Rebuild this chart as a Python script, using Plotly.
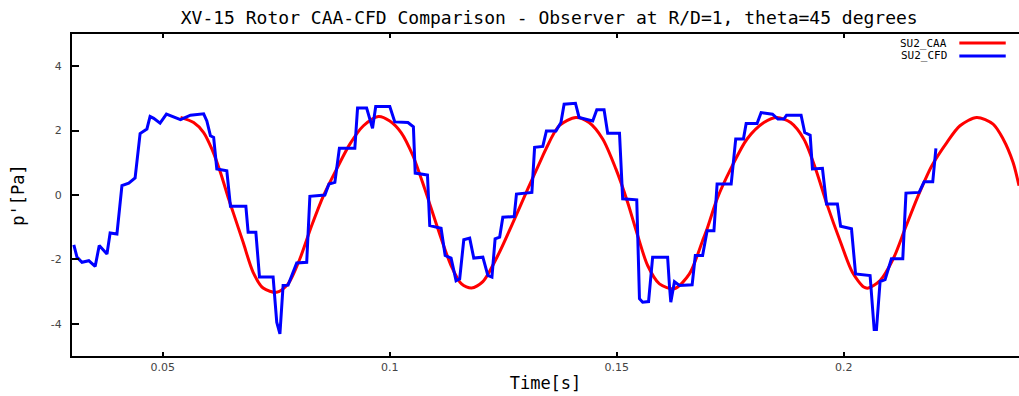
import plotly.graph_objects as go

# SU2_CAA (red, smooth)
caa_t = [0.0539, 0.0568, 0.0590, 0.0608, 0.0627, 0.0645, 0.0655, 0.0677, 0.0699, 0.0721,
         0.0751, 0.0776, 0.0802, 0.0828, 0.0854, 0.0883, 0.0912, 0.0942, 0.0975, 0.1000,
         0.1025, 0.1051, 0.1077, 0.1106, 0.1135, 0.1158, 0.1180, 0.1205, 0.1238, 0.1275,
         0.1304, 0.1334, 0.1344, 0.1373, 0.1410, 0.1439, 0.1469, 0.1498, 0.1524, 0.1546,
         0.1568, 0.1594, 0.1627, 0.1660, 0.1689, 0.1699, 0.1721, 0.1751, 0.1787, 0.1824,
         0.1853, 0.1883, 0.1912, 0.1938, 0.1964, 0.1993, 0.2019, 0.2044, 0.2054, 0.2080,
         0.2109, 0.2135, 0.2164, 0.2194, 0.2227, 0.2256, 0.2293, 0.2329, 0.2351, 0.2373,
         0.2386]
caa_p = [2.41, 2.25, 1.94, 1.43, 0.70, -0.12, -0.54, -1.47, -2.40, -2.89,
         -3.02, -2.76, -1.98, -0.95, -0.02, 0.81, 1.58, 2.15, 2.44, 2.30,
         1.94, 1.22, 0.19, -1.05, -2.19, -2.76, -2.89, -2.69, -1.88, -0.74,
         0.19, 1.12, 1.43, 2.15, 2.41, 2.25, 1.74, 0.81, -0.23, -1.26,
         -2.19, -2.76, -2.91, -2.45, -1.42, -1.05, -0.12, 0.81, 1.74, 2.25,
         2.41, 2.25, 1.74, 0.81, -0.33, -1.47, -2.40, -2.86, -2.89, -2.66,
         -1.98, -1.05, -0.02, 0.91, 1.63, 2.15, 2.41, 2.20, 1.74, 1.01,
         0.29]

# SU2_CFD (blue, stepped)
cfd_t = [0.0304, 0.0311, 0.0322, 0.0337, 0.0351, 0.0360, 0.0377, 0.0384, 0.0399, 0.0410,
         0.0425, 0.0439, 0.0450, 0.0465, 0.0472, 0.0480, 0.0494, 0.0508, 0.0539, 0.0561,
         0.0590, 0.0597, 0.0605, 0.0612, 0.0619, 0.0641, 0.0649, 0.0683, 0.0688, 0.0705,
         0.0713, 0.0743, 0.0751, 0.0758, 0.0765, 0.0776, 0.0795, 0.0817, 0.0824, 0.0857,
         0.0866, 0.0879, 0.0889, 0.0923, 0.0929, 0.0949, 0.0962, 0.0969, 0.1000, 0.1011,
         0.1040, 0.1052, 0.1056, 0.1083, 0.1088, 0.1113, 0.1122, 0.1135, 0.1146, 0.1154,
         0.1163, 0.1176, 0.1185, 0.1205, 0.1216, 0.1225, 0.1232, 0.1242, 0.1249, 0.1274,
         0.1279, 0.1313, 0.1319, 0.1337, 0.1345, 0.1366, 0.1377, 0.1384, 0.1409, 0.1417,
         0.1447, 0.1456, 0.1472, 0.1480, 0.1506, 0.1513, 0.1544, 0.1550, 0.1557, 0.1570,
         0.1579, 0.1612, 0.1616, 0.1619, 0.1627, 0.1638, 0.1666, 0.1673, 0.1689, 0.1699,
         0.1714, 0.1721, 0.1752, 0.1762, 0.1779, 0.1785, 0.1809, 0.1818, 0.1843, 0.1855,
         0.1868, 0.1874, 0.1906, 0.1914, 0.1926, 0.1931, 0.1953, 0.1962, 0.1986, 0.1993,
         0.2017, 0.2026, 0.2058, 0.2064, 0.2067, 0.2072, 0.2080, 0.2091, 0.2105, 0.2130,
         0.2137, 0.2166, 0.2177, 0.2196, 0.2203]
cfd_p = [-1.55, -1.93, -2.09, -2.04, -2.22, -1.57, -1.83, -1.18, -1.21, 0.29,
         0.37, 0.53, 1.91, 2.05, 2.44, 2.38, 2.23, 2.51, 2.34, 2.48,
         2.52, 2.30, 1.84, 1.79, 0.81, 0.75, -0.35, -0.35, -1.16, -1.16,
         -2.55, -2.55, -3.95, -4.31, -2.81, -2.80, -2.11, -2.09, -0.04, 0.00,
         0.34, 0.39, 1.45, 1.45, 2.70, 2.70, 2.07, 2.75, 2.75, 2.27,
         2.25, 2.12, 0.68, 0.62, -0.95, -1.03, -1.88, -1.96, -2.66, -2.60,
         -1.39, -1.34, -1.96, -1.93, -2.50, -2.55, -1.36, -1.31, -0.69, -0.67,
         0.03, 0.08, 1.48, 1.51, 1.99, 1.99, 2.25, 2.82, 2.85, 2.41,
         2.30, 2.65, 2.65, 1.92, 1.92, -0.12, -0.15, -3.22, -3.33, -3.31,
         -1.93, -1.93, -2.81, -3.33, -2.69, -2.81, -2.79, -1.88, -1.88, -1.11,
         -1.11, 0.34, 0.34, 1.74, 1.74, 2.22, 2.22, 2.56, 2.51, 2.36,
         2.36, 2.48, 2.48, 1.94, 1.86, 0.81, 0.83, -0.28, -0.28, -0.97,
         -1.05, -2.45, -2.50, -3.84, -4.18, -4.18, -2.69, -2.63, -1.98, -1.98,
         0.06, 0.08, 0.41, 0.41, 1.45]

x_tickvals = [0.05, 0.1, 0.15, 0.2]
x_ticktext = ["0.05", "0.1", "0.15", "0.2"]
y_tickvals = [-4, -2, 0, 2, 4]
y_ticktext = ["-4", "-2", "0", "2", "4"]
series_names = ["SU2_CAA", "SU2_CFD"]
series_colors = ["#ff0000", "#0000ff"]

mono = "DejaVu Sans Mono"

fig = go.Figure()
fig.add_trace(go.Scatter(x=caa_t, y=caa_p, mode="lines", name=series_names[0],
                         line=dict(color=series_colors[0], width=3, shape="spline", smoothing=0.8),
                         showlegend=False))
fig.add_trace(go.Scatter(x=cfd_t, y=cfd_p, mode="lines", name=series_names[1],
                         line=dict(color=series_colors[1], width=3),
                         showlegend=False))

# legend (text left, line right, as in the gnuplot original)
leg_y = [0.972, 0.932]
for name, color, yy in zip(series_names, series_colors, leg_y):
    fig.add_annotation(xref="paper", yref="paper", x=0.926, y=yy, text=name,
                       showarrow=False, xanchor="right", yanchor="middle",
                       font=dict(family=mono, size=11, color="#000"))
    fig.add_shape(type="line", xref="paper", yref="paper", x0=0.937, x1=0.986,
                  y0=yy, y1=yy, line=dict(color=color, width=3))

fig.update_layout(
    width=1019, height=396,
    margin=dict(l=72, r=0, t=34, b=40),
    plot_bgcolor="white", paper_bgcolor="white",
    title=dict(text="XV-15 Rotor CAA-CFD Comparison - Observer at R/D=1, theta=45 degrees",
               font=dict(family=mono, size=18, color="#000"),
               x=0.539, xref="container", xanchor="center",
               y=0.956, yref="container", yanchor="middle"),
    xaxis=dict(range=[0.03, 0.2386], tickvals=x_tickvals, ticktext=x_ticktext,
               showline=True, linecolor="#000", linewidth=2, mirror="ticks",
               ticks="inside", ticklen=4, tickwidth=1.5, tickcolor="#000",
               showgrid=False, zeroline=False,
               tickfont=dict(family="DejaVu Sans", size=11, color="#444"),
               title=dict(text="Time[s]", font=dict(family=mono, size=17, color="#000"),
                          standoff=4)),
    yaxis=dict(range=[-5, 5], tickvals=y_tickvals, ticktext=y_ticktext,
               showline=True, linecolor="#000", linewidth=2, mirror=False,
               ticks="inside", ticklen=7, tickwidth=1.5, tickcolor="#000",
               showgrid=False, zeroline=False, ticklabelstandoff=6,
               tickfont=dict(family="DejaVu Sans", size=11, color="#444"),
               title=dict(text="p'[Pa]", font=dict(family=mono, size=17, color="#000"),
                          standoff=22)),
)

fig.write_html("out.html")
